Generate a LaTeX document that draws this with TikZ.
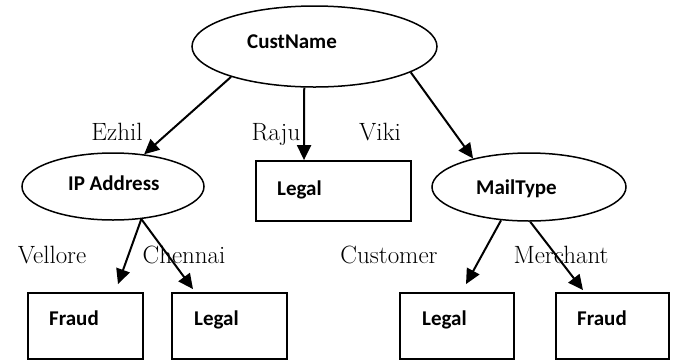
\documentclass[tikz,border=0pt]{standalone}
\usepackage{fontspec}
\newfontfamily\boxfont{Carlito}
\usetikzlibrary{shapes.geometric, arrows.meta}

\tikzset{
  oval/.style={ellipse, draw, line width=1.5pt, inner sep=0pt},
  leaf/.style={rectangle, draw, line width=1.8pt, inner sep=0pt},
  boxtext/.style={font=\boxfont\bfseries\fontsize{21}{24}\selectfont, anchor=base west, inner sep=0pt},
  branch/.style={font=\fontsize{25}{30}\selectfont, anchor=base, inner sep=0pt},
  arr/.style={line width=2pt, -{Triangle[length=15pt,width=14pt]}}
}

\begin{document}
\begin{tikzpicture}[x=1pt,y=-1pt]
  \useasboundingbox (0,0) rectangle (673,360);
  \node[oval, minimum width=245pt, minimum height=81pt] (cust) at (314.5,46.5) {};
  \node[oval, minimum width=182pt, minimum height=67pt] (ip) at (113,186.5) {};
  \node[oval, minimum width=194pt, minimum height=68pt] (mail) at (529,187) {};
  \node[leaf, minimum width=155pt, minimum height=60pt] (raju) at (333.5,191) {};
  \node[leaf, minimum width=115pt, minimum height=66pt] (vel) at (85.5,326) {};
  \node[leaf, minimum width=115pt, minimum height=66pt] (che) at (229.5,326) {};
  \node[leaf, minimum width=114pt, minimum height=66pt] (cus) at (457,326) {};
  \node[leaf, minimum width=113pt, minimum height=66pt] (mer) at (612.5,326) {};
    % texts in the shapes
  \node[boxtext] (custtxt) at (247,48) {CustName};
  \node[boxtext] (iptxt) at (68,190) {IP Address};
  \node[boxtext] (mailtxt) at (476,194) {MailType};
  \node[boxtext] (rajutxt) at (277,195) {Legal};
  \node[boxtext] (veltxt) at (49,325) {Fraud};
  \node[boxtext] (chetxt) at (194,325) {Legal};
  \node[boxtext] (custxt) at (422,325) {Legal};
  \node[boxtext] (mertxt) at (577,325) {Fraud};
    % branch values
  \node[branch] (l1) at (117,140) {Ezhil};
  \node[branch] (l2) at (276,140) {Raju};
  \node[branch] (l3) at (380,140) {Viki};
  \node[branch] (l4) at (52,263) {Vellore};
  \node[branch] (l5) at (184,263) {Chennai};
  \node[branch] (l6) at (389,263) {Customer};
  \node[branch] (l7) at (561,263) {Merchant};
  \draw[arr] (cust.200) -- (ip.46);
  \draw[arr] (cust.256) -- ([xshift=-29.5pt]raju.north);
  \draw[arr] (cust.345) -- (mail.153);
  \draw[arr] (ip.311) -- ([xshift=32.5pt,yshift=8pt]vel.north);
  \draw[arr] (ip.311) -- ([xshift=-36.5pt,yshift=3pt]che.north);
  \draw[arr] (mail.230) -- ([xshift=9pt,yshift=8pt]cus.north);
  \draw[arr] (mail.272) -- ([xshift=-29.5pt,yshift=2pt]mer.north);
\end{tikzpicture}
\end{document}
